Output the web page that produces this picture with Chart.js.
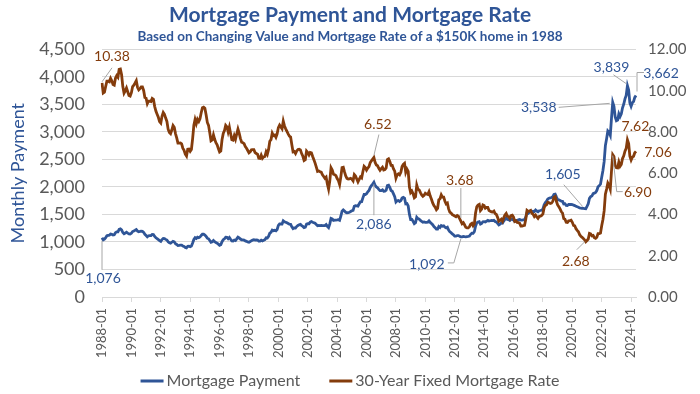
<!DOCTYPE html>
<html>
<head>
<meta charset="utf-8">
<script src="https://cdn.jsdelivr.net/npm/chart.js@4.4.1/dist/chart.umd.min.js"></script>
<style>
  html, body { margin: 0; padding: 0; background: #fff; }
</style>
</head>
<body>
<canvas id="chart" width="700" height="394"></canvas>
<script>
// monthly data, 1988-01 .. 2024-05
const startYear = 1988;

const rate = [
  10.38,9.89,9.93,10.20,10.46,10.46,10.43,10.60,10.48,10.30,10.27,10.61,
  10.73,10.65,11.03,11.05,10.77,10.20,9.88,9.99,10.13,9.95,9.77,9.74,
  9.90,10.20,10.27,10.37,10.48,10.16,10.04,10.10,10.18,10.18,10.01,9.67,
  9.64,9.37,9.50,9.49,9.47,9.62,9.58,9.24,9.01,8.86,8.71,8.50,
  8.43,8.76,8.94,8.85,8.67,8.51,8.13,7.98,7.92,8.09,8.31,8.22,
  7.92,7.71,7.46,7.46,7.47,7.42,7.21,7.11,6.92,6.83,7.16,7.17,
  7.06,7.15,7.68,8.32,8.60,8.40,8.61,8.51,8.64,8.93,9.17,9.20,
  9.15,8.83,8.46,8.32,7.96,7.57,7.61,7.86,7.64,7.48,7.38,7.20,
  7.03,7.08,7.62,7.93,8.07,8.32,8.25,8.00,8.23,7.92,7.62,7.60,
  7.82,7.65,7.90,8.14,7.94,7.69,7.50,7.48,7.43,7.29,7.21,7.10,
  6.99,7.04,7.13,7.14,7.14,7.00,6.95,6.92,6.72,6.71,6.87,6.72,
  6.79,6.81,7.04,6.92,7.15,7.55,7.63,7.94,7.82,7.85,7.74,7.91,
  8.21,8.33,8.24,8.15,8.52,8.29,8.15,8.03,7.91,7.80,7.75,7.38,
  7.03,7.05,6.95,7.08,7.15,7.16,7.13,6.95,6.82,6.62,6.66,7.07,
  7.00,6.89,7.01,6.99,6.81,6.65,6.49,6.29,6.09,6.11,6.07,6.05,
  5.92,5.84,5.75,5.81,5.48,5.23,5.63,6.26,6.15,5.95,5.93,5.88,
  5.74,5.64,5.45,5.83,6.27,6.29,6.06,5.87,5.75,5.72,5.73,5.75,
  5.71,5.63,5.93,5.86,5.72,5.58,5.70,5.82,5.77,6.07,6.33,6.27,
  6.15,6.25,6.32,6.51,6.60,6.68,6.76,6.52,6.40,6.36,6.24,6.14,
  6.22,6.29,6.16,6.18,6.26,6.66,6.70,6.57,6.38,6.38,6.21,6.10,
  5.76,5.92,5.97,5.92,6.04,6.32,6.43,6.48,6.04,6.20,6.09,5.33,
  5.06,5.13,5.00,4.81,4.86,5.42,5.22,5.19,5.06,4.95,4.88,4.93,
  5.03,4.99,4.97,5.10,4.89,4.74,4.56,4.43,4.35,4.23,4.30,4.71,
  4.76,4.95,4.84,4.84,4.64,4.51,4.55,4.27,4.11,4.07,3.99,3.96,
  3.92,3.89,3.95,3.91,3.80,3.68,3.55,3.60,3.50,3.38,3.35,3.35,
  3.41,3.53,3.57,3.45,3.54,4.07,4.37,4.46,4.49,4.19,4.26,4.46,
  4.43,4.30,4.34,4.34,4.19,4.16,4.13,4.12,4.16,4.04,4.00,3.86,
  3.67,3.71,3.77,3.67,3.84,3.98,4.05,3.91,3.89,3.80,3.94,3.96,
  3.87,3.66,3.69,3.61,3.60,3.57,3.44,3.44,3.46,3.47,3.77,4.20,
  4.15,4.17,4.20,4.05,4.01,3.90,3.97,3.88,3.81,3.90,3.92,3.95,
  4.03,4.33,4.44,4.47,4.59,4.57,4.53,4.55,4.63,4.83,4.87,4.64,
  4.46,4.37,4.27,4.14,4.07,3.80,3.77,3.62,3.61,3.69,3.70,3.72,
  3.62,3.47,3.45,3.31,3.23,3.16,3.02,2.94,2.89,2.83,2.77,2.68,
  2.74,2.81,3.08,3.06,2.96,2.98,2.87,2.84,2.90,3.07,3.07,3.10,
  3.45,3.76,4.17,4.98,5.23,5.52,5.41,5.22,6.11,6.90,6.81,6.36,
  6.27,6.26,6.54,6.34,6.43,6.71,6.84,7.07,7.20,7.62,7.44,6.82,
  6.64,6.78,6.82,6.99,7.06
];

const payment = [
  1076,1039,1050,1080,1112,1119,1123,1144,1139,1128,1131,1168,
  1184,1184,1230,1239,1220,1172,1149,1162,1178,1162,1148,1145,
  1158,1190,1201,1213,1226,1197,1187,1191,1197,1194,1175,1139,
  1118,1095,1113,1115,1117,1136,1135,1100,1076,1061,1044,1023,
  1010,1044,1065,1061,1047,1036,1002,986,979,995,1013,1004,
  969,955,935,938,944,944,928,919,901,892,922,923,
  914,926,981,1046,1078,1063,1087,1077,1090,1118,1141,1143,
  1127,1100,1069,1058,1028,994,1003,1026,1004,988,978,960,
  940,949,1006,1040,1058,1087,1084,1059,1082,1050,1020,1017,
  1035,1026,1056,1088,1074,1053,1040,1039,1033,1020,1012,1001,
  995,1007,1024,1033,1042,1033,1037,1035,1015,1015,1033,1019,
  1031,1042,1075,1071,1104,1159,1177,1217,1205,1212,1203,1227,
  1302,1328,1327,1327,1384,1367,1359,1348,1336,1324,1320,1276,
  1242,1256,1254,1282,1300,1313,1320,1298,1283,1260,1268,1323,
  1331,1330,1360,1371,1360,1350,1340,1316,1294,1300,1298,1299,
  1297,1298,1299,1318,1284,1260,1328,1427,1418,1393,1398,1397,
  1400,1404,1393,1468,1560,1583,1564,1540,1530,1532,1541,1553,
  1567,1575,1650,1661,1658,1653,1695,1730,1733,1801,1864,1863,
  1876,1911,1936,1991,2024,2053,2086,2028,2001,1986,1956,1933,
  1934,1947,1922,1925,1940,2025,2032,1992,1936,1922,1874,1824,
  1727,1750,1755,1736,1752,1798,1811,1798,1693,1697,1655,1502,
  1409,1410,1376,1334,1350,1449,1425,1416,1392,1373,1360,1364,
  1358,1356,1358,1384,1355,1337,1313,1282,1261,1233,1233,1282,
  1263,1298,1287,1293,1269,1256,1269,1216,1184,1169,1147,1132,
  1107,1106,1117,1116,1105,1092,1094,1101,1096,1093,1097,1100,
  1106,1139,1160,1157,1186,1285,1347,1362,1369,1325,1337,1368,
  1370,1363,1380,1392,1380,1386,1392,1388,1395,1373,1363,1339,
  1310,1326,1346,1342,1379,1414,1437,1411,1406,1390,1412,1413,
  1398,1374,1392,1389,1401,1407,1397,1397,1400,1403,1453,1532,
  1522,1541,1563,1549,1558,1553,1582,1562,1549,1568,1572,1578,
  1600,1677,1715,1740,1782,1796,1803,1808,1821,1865,1871,1819,
  1772,1765,1756,1742,1739,1692,1695,1666,1663,1681,1681,1684,
  1680,1668,1662,1648,1640,1632,1620,1617,1612,1610,1607,1605,
  1648,1695,1793,1825,1835,1880,1888,1900,1934,2002,2024,2050,
  2176,2299,2459,2752,2876,3016,2990,2937,3250,3538,3467,3271,
  3202,3214,3329,3278,3327,3439,3504,3600,3665,3839,3760,3526,
  3465,3529,3551,3627,3662
];

// labelled points: series 0 = payment, 1 = rate
const calloutSeries = [1, 0, 1, 0, 1, 0, 0, 1, 0, 1, 0, 1, 0, 1];
const calloutMonth = ['1988-01','1988-01','2006-07','2006-07','2012-06','2012-06',
  '2020-12','2020-12','2022-10','2022-10','2023-10','2023-10','2024-05','2024-05'];
const calloutText = ['10.38','1,076','6.52','2,086','3.68','1,092',
  '1,605','2.68','3,538','6.90','3,839','7.62','3,662','7.06'];

const months = [];
for (let i = 0; i < payment.length; i++) {
    const y = startYear + Math.floor(i / 12);
    const m = (i % 12) + 1;
    months.push(y + '-' + (m < 10 ? '0' + m : m));
}

const BLUE = '#2F5597';
const BROWN = '#843C0C';
const GREY = '#595959';
const GRID = '#D9D9D9';
const FONT = 'Lato, "Open Sans", sans-serif';

// text offset from point [dx, dy], leader polyline relative to point
const calloutLayout = [
    { t: [10, -26], lead: [[0, -1], [10, -15]] },
    { t: [1, 41], lead: [[0, 3], [0, 32]] },
    { t: [4, -33], lead: [[0, -2], [5, -23]] },
    { t: [0, 42], lead: [[0, 2], [0, 33]] },
    { t: [-1, -41], lead: [[0, -3], [0, -33]] },
    { t: [-34, 28], lead: [[0, 2], [-7, 26], [-13, 26]] },
    { t: [-23, -34], lead: [[-3, -2], [-22, -24]] },
    { t: [-10, 20], lead: [[-1, 0], [-9, 8]] },
    { t: [-74, 5], lead: [[-3, 1], [-54, 5]] },
    { t: [25, 38], lead: [[0, 1], [4, 37], [10, 37]] },
    { t: [-16, -18], lead: [[-1, -2], [-14, -11]] },
    { t: [8, -13], lead: null },
    { t: [25, -22], lead: [[1, -4], [1, -23], [8, -23]] },
    { t: [22, 1], lead: null }
];

const calloutPlugin = {
    id: 'callouts',
    afterDatasetsDraw(chart) {
        const ctx = chart.ctx;
        ctx.save();
        ctx.font = '14px ' + FONT;
        ctx.textAlign = 'center';
        ctx.textBaseline = 'middle';
        for (let k = 0; k < calloutText.length; k++) {
            const idx = months.indexOf(calloutMonth[k]);
            const pt = chart.getDatasetMeta(calloutSeries[k]).data[idx];
            const lay = calloutLayout[k];
            if (lay.lead) {
                ctx.strokeStyle = '#A6A6A6';
                ctx.lineWidth = 1;
                ctx.beginPath();
                lay.lead.forEach((p, j) => {
                    if (j == 0) ctx.moveTo(pt.x + p[0], pt.y + p[1]);
                    else ctx.lineTo(pt.x + p[0], pt.y + p[1]);
                });
                ctx.stroke();
            }
            ctx.fillStyle = calloutSeries[k] == 0 ? BLUE : BROWN;
            ctx.fillText(calloutText[k], pt.x + lay.t[0], pt.y + lay.t[1]);
        }
        ctx.restore();
    }
};

// legend at the bottom: short line + name, items centred
const legendPlugin = {
    id: 'bottomLegend',
    afterDraw(chart) {
        const ctx = chart.ctx;
        const sets = chart.data.datasets;
        const lineLen = 23, gapText = 3, gapItem = 29, y = 381;
        ctx.save();
        ctx.font = '16px ' + FONT;
        ctx.textBaseline = 'middle';
        ctx.textAlign = 'left';
        const widths = sets.map(d => ctx.measureText(d.label).width);
        let total = gapItem * (sets.length - 1);
        widths.forEach(w => { total += lineLen + gapText + w; });
        let x = (chart.width - total) / 2;
        sets.forEach((d, i) => {
            ctx.fillStyle = d.borderColor;
            ctx.fillRect(x, y - 1.5, lineLen, 3);
            ctx.fillStyle = GREY;
            ctx.fillText(d.label, x + lineLen + gapText, y);
            x += lineLen + gapText + widths[i] + gapItem;
        });
        ctx.restore();
    }
};

Chart.defaults.font.family = FONT;
Chart.defaults.color = GREY;

new Chart(document.getElementById('chart').getContext('2d'), {
    type: 'line',
    data: {
        labels: months,
        datasets: [
            {
                label: 'Mortgage Payment',
                data: payment,
                yAxisID: 'y',
                borderColor: BLUE,
                backgroundColor: BLUE,
                borderWidth: 2.8,
                pointRadius: 0,
                order: 1
            },
            {
                label: '30-Year Fixed Mortgage Rate',
                data: rate,
                yAxisID: 'y1',
                borderColor: BROWN,
                backgroundColor: BROWN,
                borderWidth: 2.8,
                pointRadius: 0,
                order: 0
            }
        ]
    },
    options: {
        responsive: false,
        animation: false,
        events: [],
        layout: { padding: { bottom: 31 } },
        plugins: {
            title: {
                display: true,
                text: 'Mortgage Payment and Mortgage Rate',
                color: BLUE,
                font: { size: 21, weight: 'bold' },
                padding: { top: 3, bottom: 0 }
            },
            subtitle: {
                display: true,
                text: 'Based on Changing Value and Mortgage Rate of a $150K home in 1988',
                color: BLUE,
                font: { size: 13.5, weight: 'bold' },
                padding: { top: 0, bottom: 5 }
            },
            legend: { display: false },
            tooltip: { enabled: false }
        },
        scales: {
            x: {
                grid: { drawOnChartArea: false, drawTicks: true, tickLength: 5, color: GRID },
                border: { color: GRID },
                ticks: {
                    autoSkip: false,
                    minRotation: 90,
                    maxRotation: 90,
                    padding: 6,
                    color: GREY,
                    font: { size: 13 },
                    callback: function (v, i) {
                        return i % 24 === 0 ? this.getLabelForValue(v) : null;
                    }
                },
                afterFit: (s) => { s.height = 66; }
            },
            y: {
                position: 'left',
                min: 0,
                max: 4500,
                grid: { color: GRID, drawTicks: false },
                border: { display: false },
                ticks: {
                    stepSize: 500,
                    padding: 17,
                    color: GREY,
                    font: { size: 18 },
                    callback: (v) => v.toLocaleString('en-US')
                },
                title: {
                    display: true,
                    text: 'Monthly Payment',
                    color: BLUE,
                    font: { size: 18 },
                    padding: { top: 7, bottom: 0 }
                },
                afterFit: (s) => { s.width = 102; }
            },
            y1: {
                position: 'right',
                min: 0,
                max: 12,
                grid: { drawOnChartArea: false, drawTicks: false },
                border: { display: false },
                ticks: {
                    stepSize: 2,
                    padding: 12,
                    color: GREY,
                    font: { size: 15 },
                    callback: (v) => v.toFixed(2)
                },
                afterFit: (s) => { s.width = 64; }
            }
        }
    },
    plugins: [calloutPlugin, legendPlugin]
});
</script>
</body>
</html>
